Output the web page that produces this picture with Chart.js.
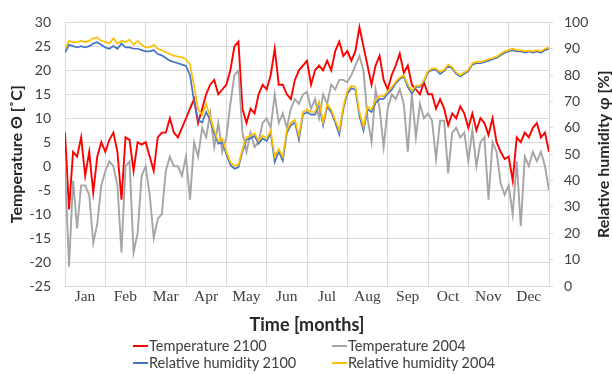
<!DOCTYPE html>
<html>
<head>
<meta charset="utf-8">
<script src="https://cdn.jsdelivr.net/npm/chart.js@4/dist/chart.umd.min.js"></script>
<style>
  html, body { margin: 0; padding: 0; background: #fff; }
  #wrap { position: relative; width: 612px; height: 374px; }
  #legend { position: absolute; left: 0; top: 337px; width: 612px; font: 14.5px Lato, sans-serif; color: #404040; }
  .item { position: absolute; height: 17px; line-height: 17px; white-space: nowrap; }
  .swatch { display: inline-block; width: 15px; height: 2px; vertical-align: middle; margin-right: 1px; position: relative; top: -1px; }
</style>
</head>
<body>
<div id="wrap">
  <canvas id="myChart" width="612" height="374"></canvas>
  <div id="legend"></div>
</div>
<script>
const monthNames = ['Jan', 'Feb', 'Mar', 'Apr', 'May', 'Jun', 'Jul', 'Aug', 'Sep', 'Oct', 'Nov', 'Dec'];
const tempTicks = [-25, 30, 5];
const humidityTicks = [0, 100, 10];

// one value every tenth of a month, Jan 1 to Dec 31
const temp2100 = [
    7, -9, 3, 2, 6, -2, 3, -5.5, 2, 5,
    3, 5.5, 7, 3, -7, 6, 5.5, -1, 5, 4.5,
    5, 2, -1, 6, 7, 7, 10, 7, 6, 8,
    10, 12, 14, 9, 12, 15, 17, 18, 15, 16,
    17, 20, 25, 26, 12, 9, 12, 11, 15, 17,
    16, 19, 24.5, 17, 17, 15, 14, 18, 20, 21,
    22, 17, 20, 21, 20, 22, 20, 24, 26, 23,
    24, 22, 24, 29, 25, 21, 17, 21, 23, 18,
    16, 19, 21, 23.5, 19.5, 21, 17, 16, 15, 17.5,
    15, 15, 12, 14, 12, 8.5, 11, 10, 12.5, 11,
    8, 11, 7.5, 10, 9, 6.5, 10, 5, 3, 1.5,
    2, -3, 6, 5, 7, 6, 8, 9, 6, 7, 3,
];
const temp2004 = [
    0, -21, -3, -13, -4, -4, -6, -16, -12, -4,
    -1, 1, 0, -4, -18, 0, 1, -18, -14, -2,
    0, -6, -15, -11, -10, -1, 2, 0, 0, -2,
    2, -7, 5, 2, 8, 6, 11, 4, 9, 3,
    6, 13, 19, 20, 7, 3, 7, 4, 5, 9,
    10, 8, 15, 9, 11, 8, 12, 14, 13, 15,
    15.5, 12, 14, 10, 15, 13, 17, 16, 18, 18,
    17.5, 19, 21, 23, 20, 10, 5, 16, 12, 4,
    12, 15, 14, 16, 13, 3, 15, 6, 13, 10,
    11, 9.5, 1.5, 9.5, 9.5, -1.5, 7, 8, 6, 7,
    1, 7.5, 0, 5, 6, -7, 5, 3, -3.5, -6,
    -4, -10, 1, -12.5, 2, 0, 3, 1, 3, 0, -5,
];
const humidity2100 = [
    88.5, 91.5, 91, 90.5, 91, 90.5, 91, 92, 92.5, 91.5,
    90.5, 90, 91, 90, 92, 90.5, 90.5, 90, 90, 89.5,
    89, 89, 89.5, 88, 87.5, 86.5, 85.5, 85, 84.5, 84,
    83.5, 80, 70, 63, 62, 66, 63, 58, 54, 54.5,
    50, 46, 44.5, 45, 51, 55.5, 56, 57, 54, 56,
    55, 58, 47, 51, 47.5, 58, 61, 62, 55.5, 65,
    66, 65, 65, 69, 61, 68, 66, 62, 57.5, 67,
    73, 75, 74.5, 64.5, 59, 67, 66, 69.5, 71, 71,
    73, 74.5, 77, 78.5, 79.5, 75.5, 73, 75.5, 75.5, 77.5,
    81, 82, 82, 80.5, 81.5, 83.5, 82.5, 80.5, 79.5, 80.5,
    81.5, 84, 84.5, 84.5, 85, 85.5, 86, 86.5, 87.5, 88.5,
    89, 89.5, 89, 89, 88.5, 89, 88.5, 89, 88.5, 89.5, 90,
];
const humidity2004 = [
    90, 93, 92.5, 92.5, 93, 92.5, 93, 94, 94.3, 93,
    92.5, 92, 94, 92, 93, 92.5, 93.5, 91.5, 93, 91.5,
    90.5, 90.5, 91.5, 90, 89.5, 88.6, 88, 87.4, 87, 86.8,
    86, 84, 76, 67, 65, 69, 64, 59, 55, 56,
    51, 47, 45.5, 46, 52, 56.5, 57, 58, 55, 57,
    56, 59, 49, 52, 49, 59, 62, 63, 57, 66,
    67, 66, 66, 70, 62, 69, 67, 63, 59, 68,
    74, 76, 75.5, 66, 60.5, 68, 67, 70.5, 72, 72,
    73.8, 75.5, 77.5, 79, 80, 76.5, 74, 76, 76, 78,
    81.5, 82.5, 82.5, 81.2, 82, 84, 83, 81, 80, 81,
    82, 84.5, 85, 85, 85.5, 86, 86.5, 87, 88, 89,
    89.5, 90, 89.5, 89.5, 89, 89.3, 89, 89.5, 89, 90, 90.5,
];

// time of each sample in months since Jan 1
const sampleTimes = temp2100.map((_, i) => i / 10);

const gridColor = '#d9d9d9';
const tickColor = '#404040';
const titleColor = '#262626';

let ctx = document.getElementById('myChart').getContext('2d');

// right axis title reads bottom-to-top like the left one
const rightTitle = {
    id: 'rightTitle',
    afterDraw(chart) {
        const area = chart.chartArea;
        const c = chart.ctx;
        c.save();
        c.translate(604, (area.top + area.bottom) / 2);
        c.rotate(-Math.PI / 2);
        c.font = 'bold 16px Lato';
        c.fillStyle = titleColor;
        c.textAlign = 'center';
        c.textBaseline = 'middle';
        c.fillText('Relative humidity φ [%]', 0, 0);
        c.restore();
    },
};

const chart = new Chart(ctx, {
    type: 'line',
    data: {
        labels: sampleTimes,
        datasets: [
            { label: 'Temperature 2100', data: temp2100, borderColor: '#ff0000', borderWidth: 1.9, yAxisID: 'y', order: 3 },
            { label: 'Temperature 2004', data: temp2004, borderColor: '#a5a5a5', borderWidth: 1.9, yAxisID: 'y', order: 2 },
            { label: 'Relative humidity 2100', data: humidity2100, borderColor: '#4472c4', borderWidth: 1.7, yAxisID: 'y1', order: 1 },
            { label: 'Relative humidity 2004', data: humidity2004, borderColor: '#ffc000', borderWidth: 1.7, yAxisID: 'y1', order: 0 },
        ],
    },
    options: {
        responsive: false,
        animation: false,
        devicePixelRatio: 1,
        layout: { padding: { top: 16, bottom: 38, left: 0, right: 0 } },
        elements: {
            point: { radius: 0 },
            line: { tension: 0 },
        },
        plugins: {
            legend: { display: false },
            tooltip: { enabled: false },
        },
        scales: {
            x: {
                type: 'linear',
                min: 0,
                max: 12,
                afterFit: (scale) => { scale.height = 50; },
                ticks: {
                    stepSize: 1,
                    labelOffset: 20,
                    padding: 2,
                    maxRotation: 0,
                    autoSkip: false,
                    color: tickColor,
                    font: { family: 'Liberation Serif', size: 15.5 },
                    callback: (value) => monthNames[value] || '',
                },
                grid: { color: gridColor, drawTicks: false },
                border: { color: gridColor },
                title: {
                    display: true,
                    text: 'Time [months]',
                    color: titleColor,
                    font: { family: 'Lato', size: 18, weight: 'bold' },
                    padding: { top: 0, bottom: 0 },
                },
            },
            y: {
                position: 'left',
                min: tempTicks[0],
                max: tempTicks[1],
                afterFit: (scale) => { scale.width = 65; },
                ticks: {
                    stepSize: tempTicks[2],
                    padding: 14,
                    color: tickColor,
                    font: { family: 'Lato', size: 14 },
                },
                grid: { color: gridColor, drawTicks: false },
                border: { color: gridColor },
                title: {
                    display: true,
                    text: 'Temperature Θ [˚C]',
                    color: titleColor,
                    font: { family: 'Lato', size: 16, weight: 'bold' },
                    padding: { top: 7, bottom: 0 },
                },
            },
            y1: {
                position: 'right',
                min: humidityTicks[0],
                max: humidityTicks[1],
                afterFit: (scale) => { scale.width = 63; },
                ticks: {
                    stepSize: humidityTicks[2],
                    padding: 11,
                    color: tickColor,
                    font: { family: 'Lato', size: 14 },
                },
                grid: { drawOnChartArea: false, color: gridColor, tickLength: 4 },
                border: { color: gridColor },
            },
        },
    },
    plugins: [rightTitle],
});

// two-column legend like the original
const legendBox = document.getElementById('legend');
const columns = [133, 332];
chart.data.datasets.forEach((ds, i) => {
    const item = document.createElement('div');
    item.className = 'item';
    item.style.left = columns[i % 2] + 'px';
    item.style.top = (Math.floor(i / 2) * 17) + 'px';
    const swatch = document.createElement('span');
    swatch.className = 'swatch';
    swatch.style.background = ds.borderColor;
    item.appendChild(swatch);
    item.appendChild(document.createTextNode(ds.label));
    legendBox.appendChild(item);
});
</script>
</body>
</html>
